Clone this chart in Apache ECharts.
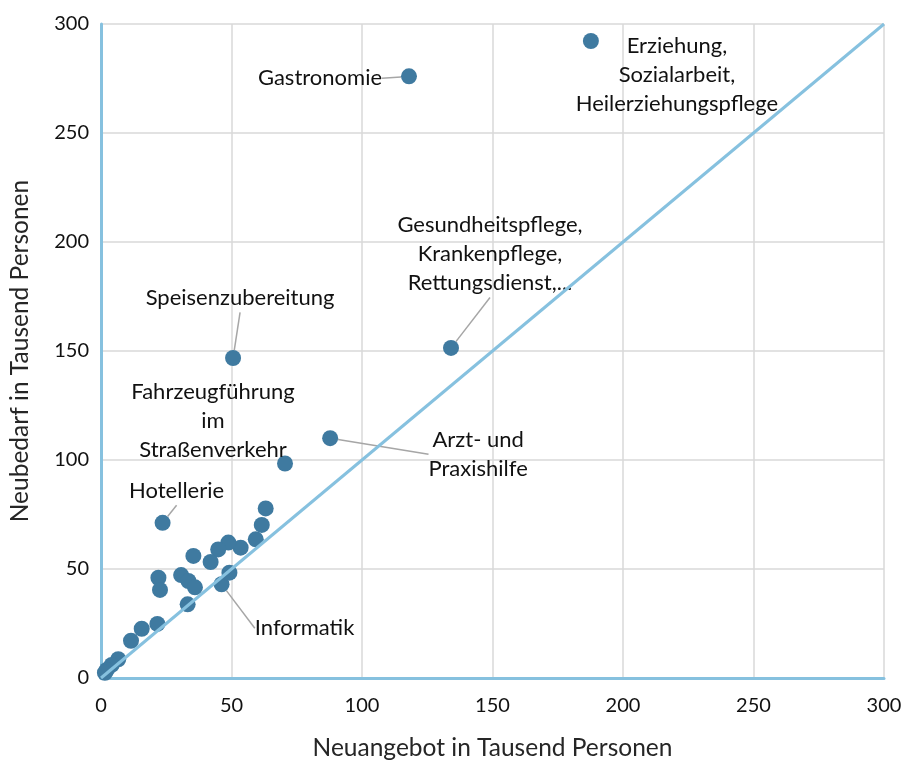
<!DOCTYPE html>
<html><head><meta charset="utf-8">
<script src="https://cdn.jsdelivr.net/npm/echarts@6/dist/echarts.min.js"></script>
<style>html,body{margin:0;padding:0;background:#fff}#c{width:904px;height:760px}</style>
</head><body><div id="c"></div>
<script>
// Data
const pointNames = [
  'Gastronomie', 'Erziehung,\nSozialarbeit,\nHeilerziehungspflege', 'Gesundheitspflege,\nKrankenpflege,\nRettungsdienst,...',
  'Speisenzubereitung', 'Fahrzeugführung\nim\nStraßenverkehr', 'Arzt- und\nPraxishilfe', 'Hotellerie', 'Informatik',
  '', '', '', '', '', '', '', '', '', '', '', '', '', '', '', '', '', '', '', '', '', ''
];
const neuangebot = [
  118, 187.7, 134.1, 50.6, 70.5, 87.8, 23.6, 46.2,
  63.1, 61.6, 59.3, 53.5, 48.8, 44.9, 42.0, 35.4, 22.0, 22.6, 30.7, 33.5, 36.0, 49.2, 33.2, 21.6, 15.6, 11.5, 6.6, 4.1, 2.2, 1.5
];
const neubedarf = [
  276, 292.2, 151.4, 146.8, 98.4, 110, 71.2, 43.0,
  77.8, 70.2, 63.6, 59.8, 62.1, 59.0, 53.2, 56.0, 46.0, 40.4, 47.2, 44.5, 41.6, 48.3, 33.8, 24.8, 22.6, 17.1, 8.6, 6.0, 3.7, 2.4
];
const axisTicks = [0, 50, 100, 150, 200, 250, 300];
const diagonal = [[0, 0], [300, 300]];

// Label placement (pixel offsets from the point) and whether a leader line is drawn
const labelOffsets = [[-89, 2], [86, 34], [39, -94], [7, -60], [-72, -43], [148, 16], [14, -32], [83, 44]];
const leaderShown = [true, false, true, true, false, true, true, true];

const FONT = 'Lato';
const chart = echarts.init(document.getElementById('c'), null, {renderer: 'canvas'});

const scatterData = neuangebot.map((x, i) => {
  const item = {value: [x, neubedarf[i]], name: pointNames[i]};
  if (pointNames[i]) {
    item.label = {show: true};
    item.labelLine = {show: leaderShown[i]};
  }
  return item;
});

chart.setOption({
  animation: false,
  grid: {left: 101, right: 20, top: 24, bottom: 82, outerBoundsMode: 'none', containLabel: false},
  xAxis: {
    type: 'value', min: axisTicks[0], max: axisTicks[axisTicks.length - 1], interval: 50,
    name: 'Neuangebot in Tausend Personen', nameLocation: 'middle', nameGap: 58,
    nameTextStyle: {fontFamily: FONT, fontSize: 24.5, color: '#262626'},
    axisLine: {show: true, onZero: false, lineStyle: {color: '#86c1df', width: 3}},
    axisTick: {show: false},
    axisLabel: {fontFamily: FONT, fontSize: 20, color: '#111', margin: 18},
    splitLine: {show: true, lineStyle: {color: '#d9d9d9', width: 1.5}}
  },
  yAxis: {
    type: 'value', min: axisTicks[0], max: axisTicks[axisTicks.length - 1], interval: 50,
    name: 'Neubedarf in Tausend Personen', nameLocation: 'middle', nameGap: 68,
    nameTextStyle: {fontFamily: FONT, fontSize: 24.5, color: '#262626'},
    axisLine: {show: true, onZero: false, lineStyle: {color: '#86c1df', width: 3}},
    axisTick: {show: false},
    axisLabel: {fontFamily: FONT, fontSize: 20, color: '#111', margin: 12},
    splitLine: {show: true, lineStyle: {color: '#d9d9d9', width: 1.5}}
  },
  series: [
    {
      type: 'scatter', data: scatterData, symbolSize: 16, z: 2,
      itemStyle: {color: '#3f7aa0', opacity: 1},
      label: {
        show: false, position: 'inside', formatter: '{b}',
        fontFamily: FONT, fontSize: 22, color: '#111', lineHeight: 29, align: 'center'
      },
      labelLine: {show: true, lineStyle: {color: '#a6a6a6', width: 1.5}},
      labelLayout: function (p) {
        const o = labelOffsets[p.dataIndex];
        return o ? {dx: o[0], dy: o[1]} : {};
      }
    },
    {
      type: 'line', data: diagonal, symbol: 'none', z: 3, silent: true,
      lineStyle: {color: '#86c1df', width: 3}
    }
  ]
});
</script></body></html>
